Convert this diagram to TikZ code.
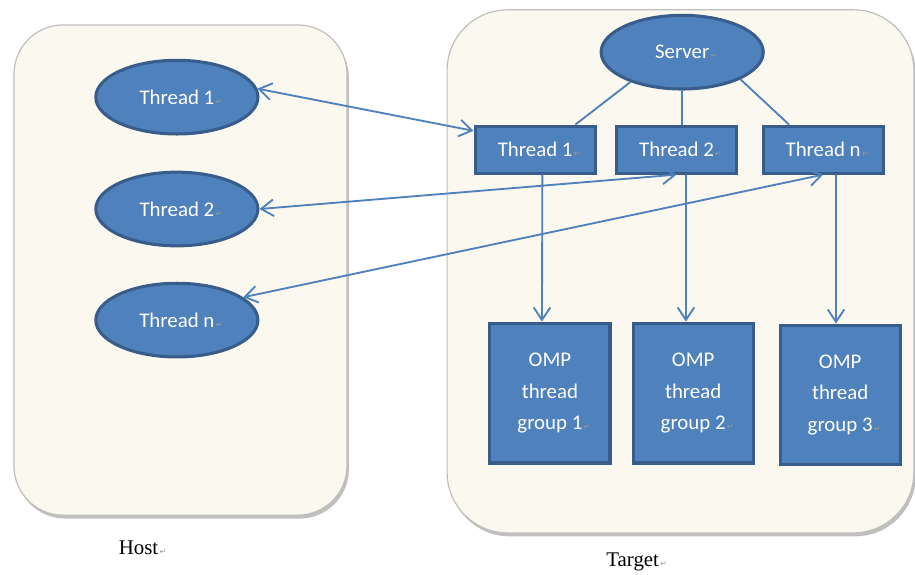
\documentclass[tikz,border=0pt]{standalone}
\usepackage{fontspec}
\setmainfont{Liberation Serif}
\newfontfamily\calibri{Carlito}
\newfontfamily\symbolfont{DejaVu Sans}
\definecolor{OfficeBlue}{RGB}{79,129,189}
\definecolor{OfficeEdge}{RGB}{56,93,138}
\definecolor{PanelCream}{RGB}{251,249,239}
\usetikzlibrary{shapes.geometric,shadows,arrows.meta}

% little return mark that trails each text
\newcommand{\parmark}{\rlap{\symbolfont\fontsize{6}{6}\selectfont\color{gray!80}\,↵}}

\begin{document}
\begin{tikzpicture}[
        >={Straight Barb[length=3.3mm,width=4.4mm]},
        panel/.style={draw=black!25,line width=0.9pt,fill=PanelCream,rounded corners=13mm,
            drop shadow={shadow xshift=0.5mm,shadow yshift=-0.9mm,opacity=0.5}},
        blue/.style={draw=OfficeEdge,line width=2.3pt,fill=OfficeBlue,text=white,
            font=\calibri\fontsize{15.7}{24}\selectfont},
        worker/.style={blue,ellipse,minimum width=42.9mm,minimum height=19.5mm},
        job/.style={blue,rectangle,minimum width=31.8mm,minimum height=12.4mm},
        ompgroup/.style={blue,rectangle,minimum width=31.8mm,minimum height=37mm,align=center},
        link/.style={draw=OfficeBlue,line width=1.4pt},
        caption/.style={anchor=base west,font=\fontsize{15.7}{18}\selectfont}
    ]
            \useasboundingbox (0,0) rectangle (242.1mm,-152.1mm);

            \node[panel,minimum width=88.1mm,minimum height=129.7mm] (host) at (47.75mm,-71.45mm) {};
            \node[panel,minimum width=123.5mm,minimum height=138.4mm,rounded corners=16mm] (target) at (180.05mm,-71.8mm) {};
            \node[caption] (hostlabel) at (30.2mm,-146.6mm) {Host\parmark};
            \node[caption] (targetlabel) at (159.2mm,-150mm) {Target\parmark};

            % host side
            \node[worker] (hthread1) at (46.8mm,-25.7mm) {Thread 1\parmark};
            \node[worker] (hthread2) at (46.8mm,-55.3mm) {Thread 2\parmark};
            \node[worker] (hthreadn) at (46.8mm,-84.7mm) {Thread n\parmark};

            % target side
            \node[worker] (server) at (180.5mm,-13.8mm) {Server\parmark};
            \node[job] (tthread1) at (141.6mm,-39.6mm) {Thread 1\parmark};
            \node[job] (tthread2) at (179.0mm,-39.6mm) {Thread 2\parmark};
            \node[job] (tthreadn) at (217.8mm,-39.6mm) {Thread n\parmark};

            \node[ompgroup] (group1) at (145.5mm,-104mm) {OMP\\thread\\group 1\parmark};
            \node[ompgroup] (group2) at (183.4mm,-104mm) {OMP\\thread\\group 2\parmark};
            \node[ompgroup] (group3) at (222.3mm,-104.5mm) {OMP\\thread\\group 3\parmark};

            \begin{scope}[every path/.append style={link}]
              \draw (server.210) -- ([xshift=10.6mm]tthread1.north);
              \draw (server.south) -- (server.south |- tthread2.north);
              \draw (server.335) -- ([xshift=-9mm]tthreadn.north);

              \draw[<->] (hthread1.6) -- (tthread1.163);
              \draw[<->] (hthread2.east) -- (tthread2.south);
              \draw[<->] (hthreadn.19) -- (tthreadn.south);

              \draw[->] ([xshift=1.9mm]tthread1.south) -- ([xshift=-2.1mm]group1.north);
              \draw[->] ([xshift=2.5mm]tthread2.south) -- ([xshift=-1.9mm]group2.north);
              \draw[->] ([xshift=3.4mm]tthreadn.south) -- ([xshift=-1.1mm]group3.north);
            \end{scope}
        \end{tikzpicture}
\end{document}
